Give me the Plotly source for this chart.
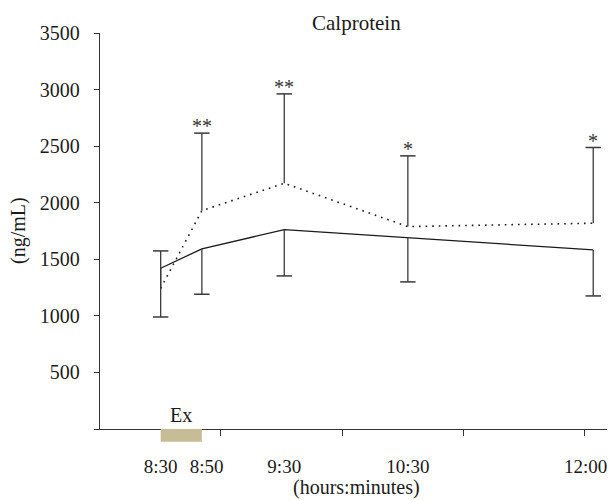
import plotly.graph_objects as go

# ---- data ----
time_labels = ["8:30", "\u00a0\u00a08:50", "9:30", "10:30", "12:00"]
time_hours = [8.5, 8 + 50 / 60, 9.5, 10.5, 12.0]

solid_mean = [1421, 1592, 1762, 1689, 1583]
solid_sd = [431, 401, 409, 389, 407]      # drawn downward

dotted_mean = [1244, 1930, 2172, 1789, 1819]
dotted_sd = [330, 685, 790, 625, 669]     # drawn upward

significance = ["", "**", "**", "*", "*"]

y_ticks = [0, 500, 1000, 1500, 2000, 2500, 3000, 3500]
y_ticktext = ["", "500", "1000", "1500", "2000", "2500", "3000", "3500"]

FONT = "Liberation Serif"
FS = 20
TFS = 19
INK = "#1a1a1a"
BAR = "#3a3a3a"

fig = go.Figure()

# main lines
fig.add_trace(go.Scatter(x=time_hours, y=solid_mean, mode="lines",
                         line=dict(color=INK, width=1.3), showlegend=False, hoverinfo="skip"))
fig.add_trace(go.Scatter(x=time_hours, y=dotted_mean, mode="lines",
                         line=dict(color=INK, width=1.6, dash="1.6px,5px"),
                         showlegend=False, hoverinfo="skip"))

# one-sided error bars
def stems(xs, ys, ends):
    sx, sy = [], []
    for x, a, b in zip(xs, ys, ends):
        sx += [x, x, None]
        sy += [a, b, None]
    return sx, sy

solid_end = [m - s for m, s in zip(solid_mean, solid_sd)]
dotted_end = [m + s for m, s in zip(dotted_mean, dotted_sd)]

for means, ends in ((solid_mean, solid_end), (dotted_mean, dotted_end)):
    sx, sy = stems(time_hours, means, ends)
    fig.add_trace(go.Scatter(x=sx, y=sy, mode="lines", line=dict(color=BAR, width=1.3),
                             showlegend=False, hoverinfo="skip", cliponaxis=False))
    fig.add_trace(go.Scatter(x=time_hours, y=ends, mode="markers",
                             marker=dict(symbol="line-ew", size=11,
                                         line=dict(color=BAR, width=1.5)),
                             showlegend=False, hoverinfo="skip", cliponaxis=False))

# significance stars
for x, top, s in zip(time_hours, dotted_end, significance):
    if s:
        fig.add_annotation(x=x, y=top, text=s, showarrow=False, xanchor="center",
                           yanchor="bottom", yshift=-6,
                           font=dict(family=FONT, size=FS, color="#333"))

# exercise bar
fig.add_shape(type="rect", xref="x", yref="paper", x0=time_hours[0], x1=time_hours[1],
              y0=-0.032, y1=0, fillcolor="#c6bd96", line=dict(width=0), layer="above")
fig.add_annotation(x=(time_hours[0] + time_hours[1]) / 2, xref="x", y=0, yref="paper",
                   text="Ex", showarrow=False, yanchor="middle", yshift=14,
                   font=dict(family=FONT, size=FS, color=INK))

# last time label sits slightly left of its point (as in the original)
fig.add_annotation(x=time_hours[-1], xref="x", y=0, yref="paper",
                   text=time_labels[-1], showarrow=False, xanchor="center",
                   yanchor="middle", yshift=-37, xshift=-8,
                   font=dict(family=FONT, size=TFS, color=INK))

# title
fig.add_annotation(x=0.5, xref="paper", y=1, yref="paper", text="Calprotein",
                   showarrow=False, yanchor="middle", yshift=10,
                   font=dict(family=FONT, size=21, color=INK))

# axis titles
fig.add_annotation(x=0.5, xref="paper", y=0, yref="paper", text="(hours:minutes)",
                   showarrow=False, yanchor="middle", yshift=-58,
                   font=dict(family=FONT, size=FS, color=INK))
fig.add_annotation(x=0, xref="paper", y=0.5, yref="paper", text="(ng/mL)",
                   showarrow=False, textangle=-90, xanchor="center", xshift=-82,
                   font=dict(family=FONT, size=FS, color=INK))

fig.update_layout(
    width=607, height=492,
    margin=dict(l=92, r=2, t=25, b=71),
    paper_bgcolor="white", plot_bgcolor="white",
    font=dict(family=FONT, size=FS, color=INK),
    xaxis=dict(
        range=[8.009, 12.16], automargin=False, tickangle=0,
        tickmode="array", tickvals=time_hours[:-1], ticktext=time_labels[:-1],
        tickfont=dict(family=FONT, size=TFS, color=INK),
        ticklabeloverflow="allow",
        ticks="outside", ticklen=20, tickcolor="rgba(0,0,0,0)",
        showline=True, linecolor="#333", linewidth=1.3,
        showgrid=False, zeroline=False,
        minor=dict(tickmode="linear", tick0=8.988, dtick=0.98, ticks="outside",
                   ticklen=6, tickcolor="#333", tickwidth=1.3, showgrid=False),
    ),
    yaxis=dict(
        range=[0, 3500], automargin=False,
        tickmode="array", tickvals=y_ticks, ticktext=y_ticktext,
        ticks="outside", ticklen=5, tickcolor="#333", tickwidth=1.3,
        ticklabelstandoff=10,
        showline=True, linecolor="#333", linewidth=1.3,
        showgrid=False, zeroline=False,
    ),
)

fig.write_html("out.html")
